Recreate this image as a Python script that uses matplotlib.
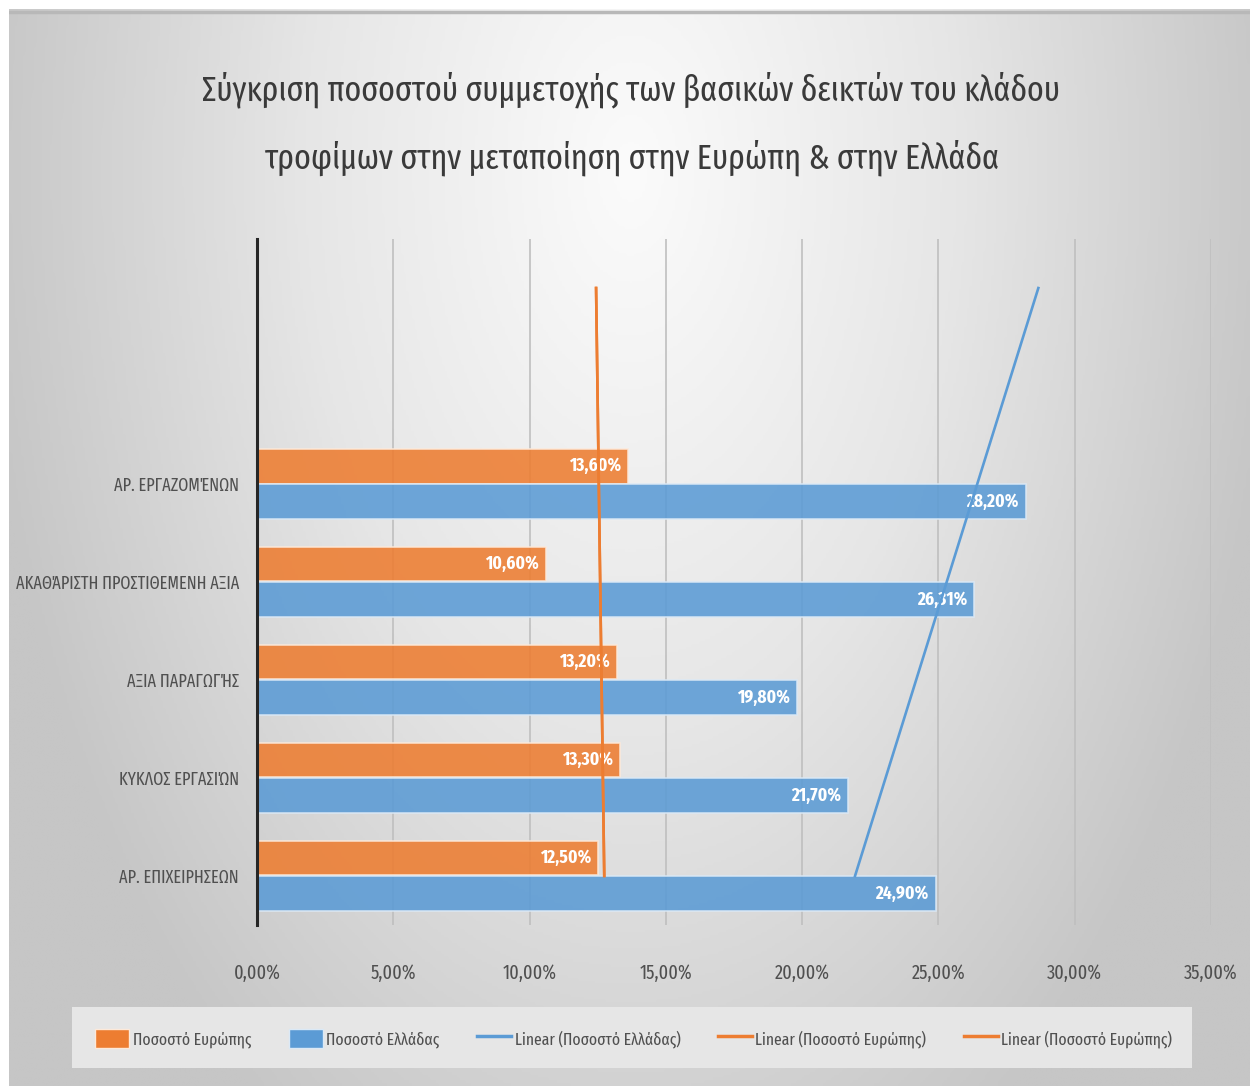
import os
import numpy as np
import matplotlib
matplotlib.use('Agg')
import matplotlib.pyplot as plt
import matplotlib.font_manager as fm
from matplotlib.lines import Line2D
from matplotlib.patches import Patch, Rectangle
from matplotlib.colors import LinearSegmentedColormap

# categories, bottom to top (Excel order)
categories = ['ΑΡ. ΕΠΙΧΕΙΡΗΣΕΩΝ', 'ΚΥΚΛΟΣ ΕΡΓΑΣΙΏΝ', 'ΑΞΙΑ ΠΑΡΑΓΩΓΉΣ',
              'ΑΚΑΘΆΡΙΣΤΗ ΠΡΟΣΤΙΘΕΜΕΝΗ ΑΞΙΑ', 'ΑΡ. ΕΡΓΑΖΟΜΈΝΩΝ']
europe = [12.5, 13.3, 13.2, 10.6, 13.6]
greece = [24.9, 21.7, 19.8, 26.31, 28.2]
xticks = [0, 5, 10, 15, 20, 25, 30, 35]
forecast = 2  # trendline forecast forward (periods)

title = ('Σύγκριση ποσοστού συμμετοχής των βασικών δεικτών του κλάδου\n'
         'τροφίμων στην μεταποίηση στην Ευρώπη & στην Ελλάδα')
legend_labels = ['Ποσοστό Ευρώπης', 'Ποσοστό Ελλάδας', 'Linear (Ποσοστό Ελλάδας)',
                 'Linear (Ποσοστό Ευρώπης)', 'Linear (Ποσοστό Ευρώπης)']

ORANGE = '#ED7D31'
BLUE = '#5B9BD5'


# look for a narrow font with Greek glyphs (the original uses a squeezed face)
def find_narrow(bold):
    best, best_score = None, -1
    for f in fm.fontManager.ttflist:
        b = os.path.basename(f.fname).lower()
        if not ('condensed' in b or 'narrow' in b):
            continue
        if 'italic' in b or 'oblique' in b:
            continue
        if any(k in b for k in ['light', 'thin', 'black', 'medium', 'semibold', 'extrabold']):
            continue
        if ('bold' in b) != bold:
            continue
        score = 1
        if 'extracondensed' in b:
            score += 3
        elif 'semicondensed' in b:
            score += 1
        elif 'ultracondensed' in b:
            score += 0
        else:
            score += 2
        if b.startswith('notosans-') or b.startswith('dejavusans'):
            score += 0.5
        if score > best_score:
            best, best_score = f.fname, score
    return best


reg = find_narrow(False)
bld = find_narrow(True)
fp = fm.FontProperties(fname=reg) if reg else fm.FontProperties(family='DejaVu Sans')
fpb = fm.FontProperties(fname=bld) if bld else fm.FontProperties(family='DejaVu Sans', weight='bold')


def prop(base, size):
    p = base.copy()
    p.set_size(size)
    return p


fig = plt.figure(figsize=(12.5, 10.86), dpi=100)
fig.patch.set_facecolor('white')
renderer = fig.canvas.get_renderer()


def fit_size(text, base, size, target_px):
    # shrink/grow a font size so the text is about target_px wide
    t = fig.text(0, 0, text, fontproperties=prop(base, size))
    wpx = t.get_window_extent(renderer).width
    t.remove()
    return size * target_px / wpx


# gradient background of the chart area
bg = fig.add_axes([0.0072, 0, 0.9928, 0.9917], zorder=-10)
h, w = 400, 460
yy, xx = np.mgrid[0:h, 0:w]
d = np.sqrt(((xx - w * 0.5) / (w * 0.5)) ** 2 + ((yy - h * 0.15) / (h * 1.0)) ** 2)
d = np.clip(d / 1.05, 0, 1)
cmap = LinearSegmentedColormap.from_list('bg', ['#fbfbfb', '#e6e6e6', '#c6c6c6'])
bg.imshow(d, cmap=cmap, aspect='auto', extent=[0, 1, 0, 1], origin='upper')
bg.plot([0, 1], [0.997, 0.997], color='#b8b8b8', lw=2.5, transform=bg.transAxes)
bg.set_xlim(0, 1)
bg.set_ylim(0, 1)
bg.axis('off')

# legend box
bg.add_patch(Rectangle(((72 - 9) / 1241, (1086 - 1068) / 1077), (1192 - 72) / 1241, 61 / 1077,
                       facecolor='#e6e6e6', edgecolor='none', transform=bg.transAxes, zorder=2))

ax = fig.add_axes([0.2056, 0.1483, 0.7632, 0.6316])
ax.patch.set_alpha(0)

y = np.arange(1, len(categories) + 1)
bh = 0.35
off = 0.18
ax.barh(y + off, europe, height=bh, color=ORANGE, alpha=0.88,
        edgecolor='#fde9d9', linewidth=1.2, zorder=3)
ax.barh(y - off, greece, height=bh, color=BLUE, alpha=0.88,
        edgecolor='#dbe9f6', linewidth=1.2, zorder=3)

lab_size = min(17, fit_size('13,60%', fpb, 16, 52))
for yi, v in zip(y, europe):
    ax.text(v - 0.25, yi + off, f'{v:.2f}%'.replace('.', ','), ha='right', va='center',
            color='white', fontproperties=prop(fpb, lab_size), zorder=4)
for yi, v in zip(y, greece):
    ax.text(v - 0.25, yi - off, f'{v:.2f}%'.replace('.', ','), ha='right', va='center',
            color='white', fontproperties=prop(fpb, lab_size), zorder=4)

# linear trendlines (Excel style, forecast forward)
yt = np.array([1, len(categories) + forecast])
pg = np.polyfit(y, greece, 1)
pe = np.polyfit(y, europe, 1)
ax.plot(np.polyval(pg, yt), yt, color=BLUE, lw=1.9, zorder=5)
ax.plot(np.polyval(pe, yt), yt, color=ORANGE, lw=1.9, zorder=5)
ax.plot(np.polyval(pe, yt), yt, color=ORANGE, lw=1.9, zorder=5)

tick_size = min(17, fit_size('10,00%', fp, 16, 54))
cat_size = min(17, fit_size(categories[3], fp, 16, 224))
ax.set_xlim(0, 35)
ax.set_ylim(0.5, len(categories) + forecast + 0.5)
ax.set_xticks(xticks)
ax.set_xticklabels([f'{t:.2f}%'.replace('.', ',') for t in xticks],
                   fontproperties=prop(fp, tick_size), color='#505050')
ax.set_yticks(y)
ax.set_yticklabels(categories, fontproperties=prop(fp, cat_size), color='#505050')
ax.tick_params(length=0, pad=13)
ax.tick_params(axis='x', pad=28)
ax.grid(axis='x', color='#bfbfbf', lw=1.2, zorder=0)
for s in ['top', 'right', 'bottom']:
    ax.spines[s].set_visible(False)
ax.spines['left'].set_color('#262626')
ax.spines['left'].set_linewidth(2.2)
ax.spines['left'].set_zorder(6)

title_size = min(36, fit_size(title.split('\n')[0], fp, 30, 860))
fig.text(0.505, 0.886, title, ha='center', va='center', fontproperties=prop(fp, title_size),
         color='#3a3a3a', linespacing=2.1)

handles = [Patch(facecolor=ORANGE, edgecolor='#fde9d9'),
           Patch(facecolor=BLUE, edgecolor='#dbe9f6'),
           Line2D([], [], color=BLUE, lw=2.5),
           Line2D([], [], color=ORANGE, lw=2.5),
           Line2D([], [], color=ORANGE, lw=2.5)]
leg_size = min(17, fit_size('Linear (Ποσοστό Ευρώπης)', fp, 16, 172))
leg = fig.legend(handles, legend_labels, loc='center', bbox_to_anchor=(0.507, 0.044), ncol=5,
                 frameon=False, prop=prop(fp, leg_size), handlelength=2.0, handleheight=1.3,
                 handletextpad=0.2, columnspacing=2.2, labelcolor='#505050')

fig.savefig('out.png', dpi=100)
